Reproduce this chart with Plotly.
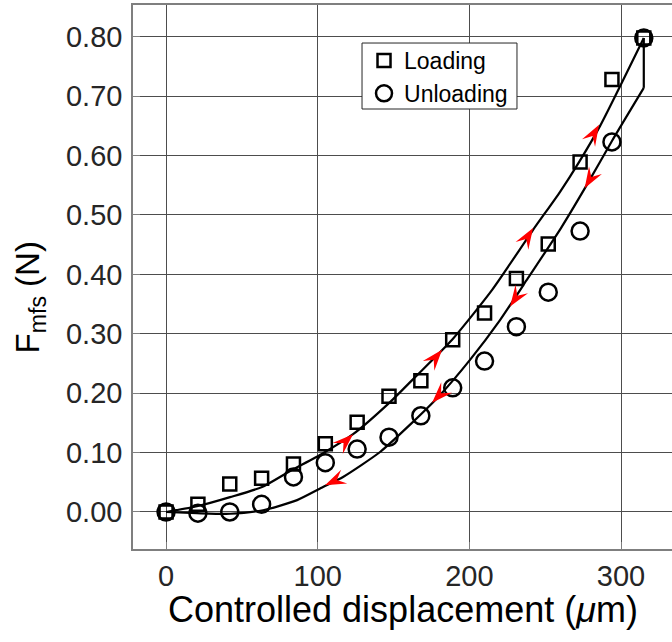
import math
import plotly.graph_objects as go

# ---------------- data ----------------
disp = [0, 21, 42, 63, 84, 105, 126, 147, 168, 189, 210, 231, 252, 273, 294, 315]
loading_force = [0.000, 0.013, 0.047, 0.057, 0.081, 0.115, 0.151, 0.195, 0.221,
                 0.290, 0.335, 0.393, 0.451, 0.589, 0.728, 0.798]
unloading_force = [0.000, -0.002, 0.000, 0.013, 0.059, 0.083, 0.106, 0.126, 0.162,
                   0.209, 0.254, 0.312, 0.370, 0.473, 0.623, 0.798]

# model curves
load_curve_x = [0, 21.1, 42.2, 63.3, 81.8, 103.5, 123.3, 147.7, 164.2, 188.6,
                215.0, 242.0, 259.8, 272.3, 286.2, 315]
load_curve_y = [0, 0.010, 0.025, 0.042, 0.069, 0.099, 0.131, 0.185, 0.227, 0.290,
                0.374, 0.475, 0.539, 0.589, 0.650, 0.798]
unload_curve_x = [315, 315, 294.1, 278.2, 260.4, 238.7, 220.2, 200.4, 180.7, 160.9,
                  141.1, 116.7, 103.5, 86.4, 64.0, 42.2, 20.4, 0]
unload_curve_y = [0.798, 0.714, 0.625, 0.554, 0.478, 0.394, 0.323, 0.256, 0.197, 0.147,
                  0.101, 0.059, 0.042, 0.020, 0.003, -0.003, -0.002, 0]

# direction arrows on the curves: tip position and pointing angle (deg)
arrow_x = [123.3, 182.0, 242.0, 285.5, 104.8, 175.4, 226.8, 276.0]
arrow_y = [0.131, 0.273, 0.478, 0.652, 0.045, 0.184, 0.346, 0.545]
arrow_angle = [43, 50, 58, 60, 204, 226, 236, 239]

x_ticks = [0, 100, 200, 300]
x_tick_labels = ["0", "100", "200", "300"]
y_ticks = [0.0, 0.1, 0.2, 0.3, 0.4, 0.5, 0.6, 0.7, 0.8]
y_tick_labels = ["0.00", "0.10", "0.20", "0.30", "0.40", "0.50", "0.60", "0.70", "0.80"]

x_title = "Controlled displacement (<i>μ</i>m)"
y_title = "F<sub>mfs</sub> (N)"

x_range = [-21.8, 333.6]
y_range = [-0.0623, 0.8535]

FONT = "Liberation Sans, Arial, Helvetica, sans-serif"

fig = go.Figure()

fig.add_trace(go.Scatter(x=load_curve_x, y=load_curve_y, mode="lines",
                         line=dict(color="black", width=2.2, shape="spline", smoothing=0.6),
                         showlegend=False, hoverinfo="skip"))
fig.add_trace(go.Scatter(x=unload_curve_x[:2], y=unload_curve_y[:2], mode="lines",
                         line=dict(color="black", width=2.2),
                         showlegend=False, hoverinfo="skip"))
fig.add_trace(go.Scatter(x=unload_curve_x[1:], y=unload_curve_y[1:], mode="lines",
                         line=dict(color="black", width=2.2, shape="spline", smoothing=0.6),
                         showlegend=False, hoverinfo="skip"))

fig.add_trace(go.Scatter(x=disp, y=loading_force, mode="markers", name="Loading",
                         marker=dict(symbol="square-open", size=13, color="black",
                                     line=dict(width=2.5, color="black"))))
fig.add_trace(go.Scatter(x=disp, y=unloading_force, mode="markers", name="Unloading",
                         marker=dict(symbol="circle-open", size=17, color="black",
                                     line=dict(width=2.5, color="black"))))

# arrowheads (barbed), drawn as pixel-sized path shapes anchored at the tips
L, W, N = 21.0, 7.5, 13.0
shapes = []
for ax_, ay_, ang in zip(arrow_x, arrow_y, arrow_angle):
    t = math.radians(ang)
    c, s = math.cos(t), math.sin(t)
    pts = [(0, 0), (-L, W), (-N, 0), (-L, -W)]
    rp = [(px * c - py * s, px * s + py * c) for px, py in pts]
    path = "M " + " L ".join(f"{px:.2f},{py:.2f}" for px, py in rp) + " Z"
    shapes.append(dict(type="path", xref="x", yref="y", xsizemode="pixel", ysizemode="pixel",
                       xanchor=ax_, yanchor=ay_, path=path, fillcolor="#ff0000",
                       line=dict(width=0), layer="above"))

# legend frame
shapes.append(dict(type="rect", xref="paper", yref="paper",
                   x0=0.4249, x1=0.7124, y0=0.8088, y1=0.9301,
                   fillcolor="white", line=dict(color="#262626", width=1), layer="above"))

annotations = [
    dict(text=x_title, xref="paper", yref="paper", x=0.501, y=-0.111,
         xanchor="center", yanchor="middle", showarrow=False,
         font=dict(size=36, color="black", family=FONT)),
    dict(text=y_title, xref="paper", yref="paper", x=-0.1905, y=0.463,
         xanchor="center", yanchor="middle", showarrow=False, textangle=-90,
         font=dict(size=33, color="black", family=FONT)),
]

fig.update_layout(
    width=672, height=642,
    margin=dict(l=133, r=0, t=5, b=93),
    paper_bgcolor="white", plot_bgcolor="white",
    font=dict(family=FONT, color="#262626"),
    shapes=shapes,
    annotations=annotations,
    showlegend=True,
    legend=dict(x=0.4286, y=0.9375, xanchor="left", yanchor="top",
                bgcolor="rgba(0,0,0,0)", borderwidth=0,
                font=dict(size=23, color="black", family=FONT)),
    xaxis=dict(range=x_range, tickvals=x_ticks, ticktext=x_tick_labels,
               showgrid=True, gridcolor="#4d4d4d", gridwidth=1, zeroline=False,
               showline=True, linecolor="#7f7f7f", linewidth=1.5, mirror=True,
               ticks="inside", ticklen=7, tickcolor="#7f7f7f",
               tickfont=dict(size=29, color="#262626"), ticklabelstandoff=0),
    yaxis=dict(range=y_range, tickvals=y_ticks, ticktext=y_tick_labels,
               showgrid=True, gridcolor="#4d4d4d", gridwidth=1, zeroline=False,
               showline=True, linecolor="#7f7f7f", linewidth=1.5, mirror=False,
               ticks="inside", ticklen=7, tickcolor="#7f7f7f",
               tickfont=dict(size=29, color="#262626"), ticklabelstandoff=3),
)

fig.write_html("out.html")
